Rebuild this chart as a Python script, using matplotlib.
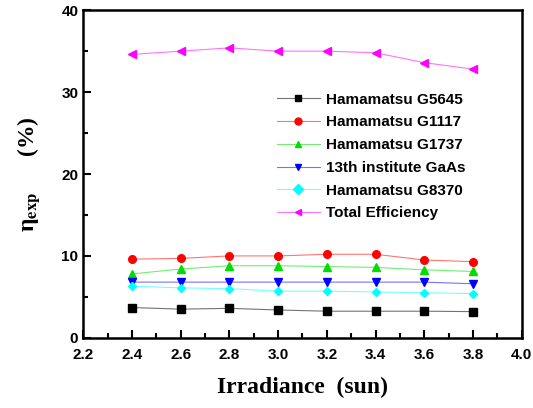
import numpy as np
import matplotlib.pyplot as plt
from matplotlib.ticker import MultipleLocator
from matplotlib.lines import Line2D

plt.rcParams['font.family'] = 'Liberation Sans'
plt.rcParams['font.weight'] = 'bold'
plt.rcParams['mathtext.fontset'] = 'stix'

irradiance = [2.4, 2.6, 2.8, 3.0, 3.2, 3.4, 3.6, 3.8]
g5645 = [3.7, 3.5, 3.6, 3.4, 3.25, 3.25, 3.25, 3.2]
g1117 = [9.6, 9.7, 10.0, 10.0, 10.2, 10.2, 9.5, 9.3]
g1737 = [7.8, 8.4, 8.8, 8.8, 8.7, 8.6, 8.3, 8.1]
gaas = [6.8, 6.8, 6.8, 6.8, 6.8, 6.8, 6.8, 6.6]
g8370 = [6.3, 6.1, 6.0, 5.7, 5.7, 5.6, 5.5, 5.4]
total = [34.6, 35.0, 35.4, 35.0, 35.0, 34.8, 33.6, 32.8]

series = [
    (g5645, 'Hamamatsu G5645', 'black', 's'),
    (g1117, 'Hamamatsu G1117', 'red', 'o'),
    (g1737, 'Hamamatsu G1737', '#00dd00', '^'),
    (gaas, '13th institute GaAs', 'blue', 'v'),
    (g8370, 'Hamamatsu G8370', 'cyan', 'D'),
    (total, 'Total Efficiency', 'magenta', '<'),
]

fig = plt.figure(figsize=(5.33, 4.08), dpi=100)
ax = fig.add_axes([0.156, 0.172, 0.823, 0.803])

for vals, lab, col, mk in series:
    ms = 4.5 if mk == 'D' else 5.5
    ax.plot(irradiance, vals, color=col, lw=0.8, alpha=0.55)
    ax.plot(irradiance, vals, ls='none', marker=mk, color=col, ms=ms)

# legend handles: faint line + solid marker
handles = []
for vals, lab, col, mk in series:
    handles.append((Line2D([], [], color=col, lw=0.8, alpha=0.55),
                    Line2D([], [], ls='none', marker=mk, color=col, ms=5)))
labels = [s[1] for s in series]
ax.legend(handles, labels, loc='upper left', bbox_to_anchor=(0.41, 0.79),
          frameon=False, fontsize=11, handlelength=2.8, labelspacing=0.57,
          handletextpad=0.4)

ax.set_xlim(2.2, 4.0)
ax.set_ylim(0, 40)
ax.xaxis.set_major_locator(MultipleLocator(0.2))
ax.xaxis.set_minor_locator(MultipleLocator(0.1))
ax.yaxis.set_major_locator(MultipleLocator(10))
ax.yaxis.set_minor_locator(MultipleLocator(5))
ax.tick_params(which='both', direction='in', width=1.5, labelsize=11)
ax.tick_params(which='major', length=6)
ax.tick_params(which='minor', length=3.5)
ax.tick_params(axis='x', pad=7)
for sp in ax.spines.values():
    sp.set_linewidth(1.8)

ax.set_xlabel('Irradiance  (sun)', family='Liberation Serif', fontsize=17,
              weight='bold', labelpad=11)
ax.set_ylabel('η$_{\\mathrm{exp}}$      (%)', family='Liberation Serif',
              fontsize=17, weight='bold', labelpad=14)

fig.savefig('out.png', dpi=100)
